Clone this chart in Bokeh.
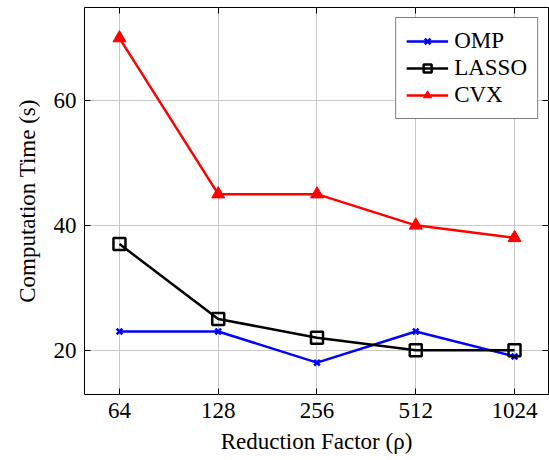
from bokeh.plotting import figure
from bokeh.models import Range1d, FixedTicker, LinearAxis, LogAxis, Legend, LegendItem
from bokeh.embed import file_html
from bokeh.resources import INLINE

reduction = [64, 128, 256, 512, 1024]
omp = [23, 23, 18, 23, 19]
lasso = [37, 25, 22, 20, 20]
cvx = [70, 45, 45, 40, 38]
y_ticks = [20, 40, 60]

FONT = "Liberation Serif"
FS = "23px"

p = figure(width=549, height=456, output_backend="svg", toolbar_location=None,
           x_axis_type="log",
           x_range=Range1d(64 / 2 ** 0.354, 1024 * 2 ** 0.344),
           y_range=Range1d(12.9, 74.9),
           min_border_left=84, min_border_right=1, min_border_top=7, min_border_bottom=0)

p.outline_line_color = "black"
p.outline_line_width = 1
p.background_fill_color = "white"

for ax in [p.xaxis[0], p.yaxis[0]]:
    ax.major_label_text_font = FONT
    ax.major_label_text_font_size = FS
    ax.major_label_text_color = "black"
    ax.axis_label_text_font = FONT
    ax.axis_label_text_font_size = FS
    ax.axis_label_text_font_style = "normal"
    ax.axis_label_text_color = "black"
    ax.major_tick_in = 6
    ax.major_tick_out = 0
    ax.minor_tick_in = 0
    ax.minor_tick_out = 0
    ax.axis_line_color = None
    ax.major_tick_line_color = "black"

p.xaxis[0].ticker = FixedTicker(ticks=reduction)
p.xaxis[0].major_label_overrides = {v: str(v) for v in reduction}
p.xaxis[0].axis_label = "Reduction Factor (ρ)"
p.xaxis[0].major_label_standoff = 8
p.xaxis[0].axis_label_standoff = 8

p.yaxis[0].ticker = FixedTicker(ticks=y_ticks)
p.yaxis[0].axis_label = "Computation Time (s)"
p.yaxis[0].major_label_standoff = 8
p.yaxis[0].axis_label_standoff = 11

rax = LinearAxis(ticker=FixedTicker(ticks=y_ticks), major_label_text_font_size="0px",
                 major_label_overrides={v: "" for v in y_ticks},
                 major_tick_in=6, major_tick_out=0, minor_tick_in=0, minor_tick_out=0,
                 axis_line_color=None, major_label_standoff=0)
p.add_layout(rax, "right")
tax = LogAxis(ticker=FixedTicker(ticks=reduction), major_label_text_font_size="0px",
              major_label_overrides={v: "" for v in reduction},
              major_tick_in=6, major_tick_out=0, minor_tick_in=0, minor_tick_out=0,
              axis_line_color=None, major_label_standoff=0)
p.add_layout(tax, "above")

p.xgrid.ticker = FixedTicker(ticks=reduction)
p.ygrid.ticker = FixedTicker(ticks=y_ticks)
p.grid.grid_line_color = "#c8c8c8"
p.grid.grid_line_width = 1

l1 = p.line(reduction, omp, line_color="blue", line_width=2.5)
m1 = p.scatter(reduction, omp, marker="x", size=8, line_color="blue", line_width=2.5)
l2 = p.line(reduction, lasso, line_color="black", line_width=2.5)
m2 = p.scatter(reduction, lasso, marker="square", size=12, line_color="black",
               fill_color=None, line_width=2.5)
l3 = p.line(reduction, cvx, line_color="red", line_width=2.5)
m3 = p.scatter(reduction, cvx, marker="triangle", size=13, line_color="red",
               fill_color="red", line_width=1)

legend = Legend(items=[
    LegendItem(label="OMP", renderers=[l1, m1]),
    LegendItem(label="LASSO", renderers=[l2, m2]),
    LegendItem(label="CVX", renderers=[l3, m3]),
], location="top_right")
legend.label_text_font = FONT
legend.label_text_font_size = FS
legend.label_text_color = "black"
legend.border_line_color = "black"
legend.border_line_width = 1
legend.background_fill_alpha = 1
legend.glyph_width = 42
legend.label_standoff = 6
legend.spacing = 1
legend.padding = 10
p.add_layout(legend)

open("out.html", "w").write(file_html(p, INLINE))
